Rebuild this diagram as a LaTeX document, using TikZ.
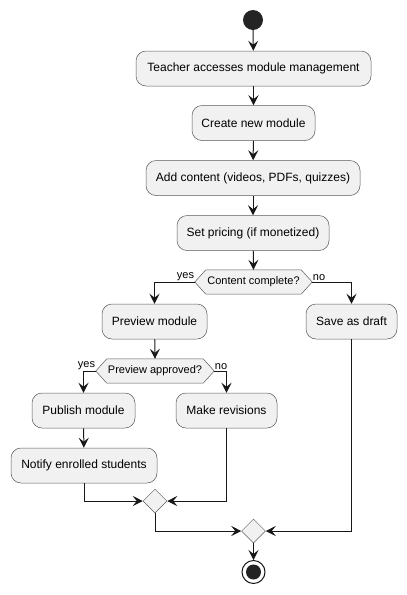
\documentclass[tikz,border=0pt]{standalone}
\usepackage{fontspec}
\setmainfont{Liberation Sans}
\usetikzlibrary{arrows.meta,shapes.geometric,calc,backgrounds}
\definecolor{boxfill}{HTML}{F1F1F1}
\definecolor{lineclr}{HTML}{181818}
\definecolor{bordclr}{HTML}{5A5A5A}
\tikzset{
  act/.style={draw=bordclr, line width=0.5pt, fill=boxfill, rounded corners=10pt,
    minimum height=35pt, inner sep=0pt, font=\fontsize{12}{14}\selectfont},
  hexlbl/.style={inner sep=0pt, minimum height=24pt, font=\fontsize{11}{13}\selectfont},
  hexshape/.style={draw=bordclr, line width=0.5pt, fill=boxfill},
  merge/.style={diamond, draw=bordclr, line width=0.5pt, fill=boxfill, inner sep=0pt,
    minimum width=24pt, minimum height=24pt},
  flow/.style={draw=lineclr, line width=1pt, -{Stealth[length=10pt,width=10pt,inset=4pt]}},
  brl/.style={font=\fontsize{11}{13}\selectfont, inner sep=0.5pt},
}
\begin{document}
\begin{tikzpicture}[x=1pt,y=-1pt]
\useasboundingbox (0,0) rectangle (407,595);
\node[circle, fill=lineclr!95!white, minimum size=20pt, inner sep=0pt] (start) at (253,20) {};
\node[act, minimum width=235pt] (b1) at (253.5,68.5) {Teacher accesses module management};
\node[act, minimum width=123pt] (b2) at (253.5,123) {Create new module};
\node[act, minimum width=214pt] (b3) at (253,178) {Add content (videos, PDFs, quizzes)};
\node[act, minimum width=152pt] (b4) at (253,233) {Set pricing (if monetized)};
% decision 1
\node[hexlbl, minimum width=95pt] (d1) at (253.5,282) {Content complete?};
\coordinate (d1l) at ($(d1.west)+(-11,0)$);
\coordinate (d1r) at ($(d1.east)+(11,0)$);
\begin{scope}[on background layer]
\draw[hexshape] (d1l) -- (d1.north west) -- (d1.north east) -- (d1r) -- (d1.south east) -- (d1.south west) -- cycle;
\end{scope}
\node[act, minimum width=105pt] (pm) at (154.5,321.5) {Preview module};
\node[act, minimum width=91pt] (sd) at (351.5,321.5) {Save as draft};
% decision 2
\node[hexlbl, minimum width=96pt] (d2) at (155,371) {Preview approved?};
\coordinate (d2l) at ($(d2.west)+(-11,0)$);
\coordinate (d2r) at ($(d2.east)+(11,0)$);
\begin{scope}[on background layer]
\draw[hexshape] (d2l) -- (d2.north west) -- (d2.north east) -- (d2r) -- (d2.south east) -- (d2.south west) -- cycle;
\end{scope}
\node[act, minimum width=103pt] (pub) at (83.5,410.5) {Publish module};
\node[act, minimum width=101pt] (mr) at (226.5,410.5) {Make revisions};
\node[act, minimum width=146pt] (ne) at (84,465.5) {Notify enrolled students};
\node[merge] (m1) at (155,501) {};
\node[merge] (m2) at (253.5,531) {};
\node[circle, draw=lineclr, line width=1pt, fill=white, minimum size=23pt, inner sep=0pt] (end) at (253.5,572) {};
\fill[lineclr!95!white] (end.center) circle (7.5pt);
% connectors
\draw[flow] (start) -- (b1);
\draw[flow] (b1) -- (b2);
\draw[flow] (b2) -- (b3);
\draw[flow] (b3) -- (b4);
\draw[flow] (b4) -- (d1.north);
\draw[flow] (d1l) -| (pm.north);
\draw[flow] (d1r) -| (sd.north);
\node[brl, anchor=south east] at ($(d1l)+(0,-0.5)$) {yes};
\node[brl, anchor=south west] at ($(d1r)+(0,-0.5)$) {no};
\draw[flow] (pm) -- (d2.north);
\draw[flow] (d2l) -| (pub.north);
\draw[flow] (d2r) -| (mr.north);
\node[brl, anchor=south east] at ($(d2l)+(0,-0.5)$) {yes};
\node[brl, anchor=south west] at ($(d2r)+(0,-0.5)$) {no};
\draw[flow] (pub) -- (ne);
\draw[flow] (ne.south) |- (m1.west);
\draw[flow] (mr.south) |- (m1.east);
\draw[flow] (m1.south) |- (m2.west);
\draw[flow] (sd.south) |- (m2.east);
\draw[flow] (m2.south) -- (end);
\end{tikzpicture}
\end{document}
